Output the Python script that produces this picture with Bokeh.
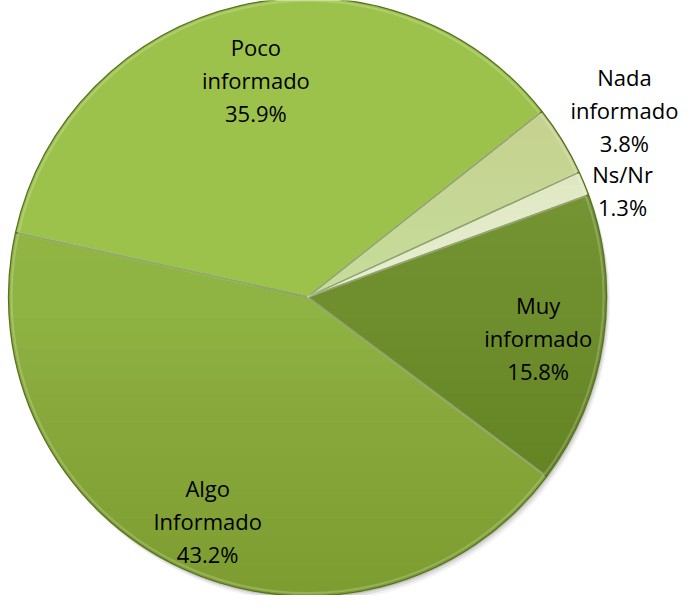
import numpy as np
from bokeh.plotting import figure
from bokeh.models import Range1d, ColumnDataSource
from bokeh.core.properties import value
from bokeh.embed import file_html
from bokeh.resources import INLINE

# ---- data ----
categories = ["Muy\ninformado", "Ns/Nr", "Nada\ninformado", "Poco\ninformado", "Algo\nInformado"]
percents = [15.8, 1.3, 3.8, 35.9, 43.2]
colors = ["#6F8E2E", "#E6EED2", "#C6DC9B", "#9CC24C", "#8FB443"]
label_r = [0.78, 1.12, 1.243, 0.77, 0.80]   # label distance (fraction of radius)
label_da = [0.0, -2.5, 0.0, 0.0, 0.0]        # label angle shift (degrees)

# ---- layout ----
CX, CY, R = 315.0, -304.5, 299.0
START_DEG = -36.9
LINE_H = 33.0
LABEL_DY = -7.0

vals = np.array(percents) / sum(percents)
ends = np.deg2rad(START_DEG) + 2 * np.pi * np.cumsum(vals)
starts = ends - 2 * np.pi * vals
mids = (starts + ends) / 2 + np.deg2rad(label_da)

src = ColumnDataSource(dict(start=starts, end=ends, color=colors))

# label lines, each placed individually
tx, ty, tt = [], [], []
for c, pct, rr, mid in zip(categories, percents, label_r, mids):
    lines = c.split("\n") + [f"{pct:.1f}%"]
    lx = CX + rr * R * np.cos(mid)
    ly = CY + rr * R * np.sin(mid) + LABEL_DY
    n = len(lines)
    for i, ln in enumerate(lines):
        tx.append(lx)
        ty.append(ly + ((n - 1) / 2 - i) * LINE_H)
        tt.append(ln)
lab = ColumnDataSource(dict(x=tx, y=ty, t=tt))

p = figure(width=683, height=595, output_backend="svg", toolbar_location=None,
           x_range=Range1d(8, 691), y_range=Range1d(-603, -8),
           min_border=0, background_fill_color="white", border_fill_color="white")
p.axis.visible = False
p.grid.visible = False
p.outline_line_color = None

# soft shadow
for off, a in [(6, 0.05), (4, 0.08), (2, 0.12)]:
    p.circle(x=CX + off * 0.6, y=CY - off, radius=R, fill_color="black",
             fill_alpha=a, line_color=None)

p.wedge(x=CX, y=CY, radius=R, start_angle="start", end_angle="end",
        fill_color="color", line_color=None, source=src)

# vertical shading: lighter green at top, darker at bottom
theta = np.linspace(0, 2 * np.pi, 361)
cx_pts = CX + R * np.cos(theta)
cy_pts = CY + R * np.sin(theta)
N = 18
for i in range(1, N + 1):
    lvl = R * (i / (N + 1))
    m = cy_pts >= CY + lvl
    if m.sum() > 2:
        p.patch(cx_pts[m], cy_pts[m], fill_color="#B4DC5C", fill_alpha=0.018, line_color=None)
    m2 = cy_pts <= CY - lvl
    if m2.sum() > 2:
        p.patch(cx_pts[m2], cy_pts[m2], fill_color="#3E5212", fill_alpha=0.012, line_color=None)

# slice edges
p.wedge(x=CX, y=CY, radius=R, start_angle="start", end_angle="end",
        fill_color=None, line_color="#56731F", line_width=1.3, source=src)
p.wedge(x=CX, y=CY, radius=R - 3, start_angle="start", end_angle="end",
        fill_color=None, line_color="white", line_alpha=0.2, line_width=2, source=src)

p.text(x="x", y="y", text="t", source=lab, text_align="center",
       text_baseline="middle", text_font=value("Open Sans"), text_font_size="22px",
       text_color="black")

open("out.html", "w").write(file_html(p, INLINE))
